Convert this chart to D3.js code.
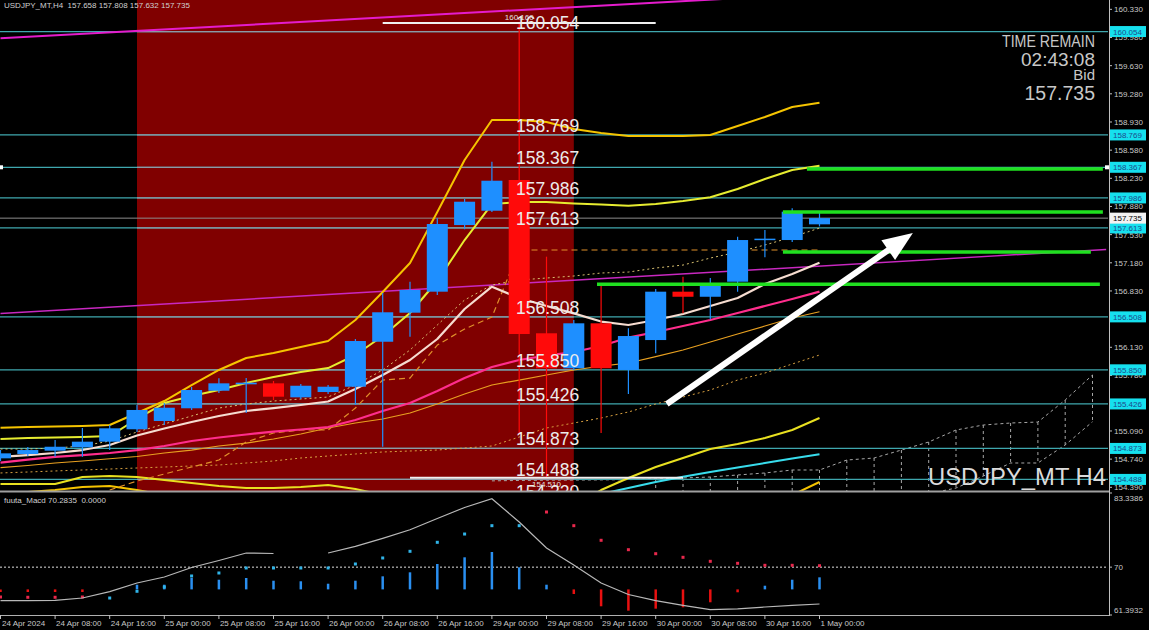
<!DOCTYPE html>
<html><head><meta charset="utf-8">
<script src="https://cdn.jsdelivr.net/npm/d3@7"></script>
<style>html,body{margin:0;padding:0;background:#000;overflow:hidden}</style>
</head><body>
<svg id="c" width="1149" height="630"></svg>
<script>
// ---------- DATA ----------
const timeLabels = ["24 Apr 2024","24 Apr 08:00","24 Apr 16:00","25 Apr 00:00","25 Apr 08:00","25 Apr 16:00","26 Apr 00:00","26 Apr 08:00","26 Apr 16:00","29 Apr 00:00","29 Apr 08:00","29 Apr 16:00","30 Apr 00:00","30 Apr 08:00","30 Apr 16:00","1 May 00:00"];
const opens  = [154.750,154.804,154.845,154.887,154.957,155.111,155.214,155.372,155.590,155.670,155.682,155.508,155.574,155.640,156.199,156.560,156.821,157.649,157.827,158.209,156.304,155.869,156.428,155.848,156.220,156.821,156.758,156.945,157.470,157.463,157.658];
const highs  = [154.853,154.891,154.978,155.127,155.164,155.413,155.438,155.636,155.744,155.748,155.711,155.674,155.661,156.233,156.804,156.945,157.733,157.973,158.436,160.160,157.256,156.469,156.904,156.366,156.854,157.007,156.991,157.504,157.587,157.857,157.808];
const lows   = [154.717,154.779,154.770,154.770,154.853,155.077,155.164,155.351,155.562,155.313,155.475,155.487,155.549,155.413,154.894,156.261,156.780,157.596,157.811,155.050,154.510,155.848,155.065,155.549,156.055,156.552,156.478,156.821,157.248,157.438,157.632];
const closes = [154.812,154.853,154.894,154.957,155.123,155.351,155.379,155.599,155.682,155.690,155.516,155.652,155.640,156.208,156.565,156.842,157.662,157.939,158.200,156.295,155.869,156.428,155.869,156.270,156.821,156.758,156.904,157.463,157.480,157.815,157.735];

const bandUpperOuter = [155.131,155.139,155.146,155.152,155.164,155.313,155.462,155.661,155.848,155.997,156.059,156.133,156.208,156.469,156.817,157.177,157.811,158.457,158.954,158.954,158.930,158.842,158.793,158.756,158.756,158.756,158.768,158.880,158.992,159.116,159.169];
const bandUpperInner = [154.990,155.003,155.009,155.015,155.027,155.239,155.437,155.524,155.599,155.686,155.761,155.823,155.872,156.034,156.270,156.556,156.954,157.463,157.910,157.935,157.935,157.917,157.904,157.889,157.911,157.948,157.994,158.097,158.221,158.333,158.386];
const midLine = [154.767,154.791,154.816,154.853,154.916,155.034,155.121,155.201,155.276,155.338,155.375,155.413,155.456,155.612,155.786,155.972,156.233,156.606,156.883,156.742,156.643,156.552,156.450,156.407,156.469,156.544,156.643,156.742,156.916,157.041,157.181];
const pinkMA = [154.696,154.735,154.767,154.791,154.816,154.853,154.903,154.965,155.009,155.046,155.083,155.108,155.139,155.226,155.338,155.437,155.587,155.748,155.885,155.972,156.028,156.071,156.146,156.251,156.320,156.394,156.469,156.556,156.643,156.730,156.821];
const orangeMA = [154.634,154.661,154.692,154.717,154.745,154.773,154.816,154.853,154.903,154.940,154.990,155.052,155.127,155.189,155.239,155.313,155.425,155.549,155.661,155.723,155.786,155.848,155.897,155.935,156.013,156.096,156.196,156.295,156.394,156.494,156.572];
const dashedLine = [null,null,null,null,154.356,154.468,154.555,154.642,154.729,154.953,155.065,155.102,155.102,155.375,155.723,155.748,156.158,156.357,156.506,157.339,157.339,157.339,157.339,157.339,157.339,157.339,157.339,157.339,157.339,157.339,157.339];
const dottedUpper = [154.866,154.866,154.878,154.903,154.965,155.077,155.177,155.276,155.375,155.425,155.462,155.487,155.512,155.661,155.848,156.096,156.407,156.718,156.904,156.966,156.991,157.016,157.053,157.065,157.115,157.152,157.239,157.314,157.401,157.500,157.612];
const dottedLower = [154.568,154.580,154.593,154.605,154.617,154.630,154.642,154.655,154.667,154.692,154.717,154.754,154.779,154.804,154.829,154.841,154.853,154.878,154.903,155.015,155.127,155.189,155.251,155.326,155.425,155.512,155.599,155.723,155.810,155.922,156.034];
const bandLowerInner = [154.431,154.431,154.431,154.518,154.530,154.518,154.481,154.443,154.406,154.381,154.381,154.394,154.419,154.369,154.294,154.22,154.10,153.95,153.85,153.90,154.00,154.15,154.356,154.506,154.642,154.754,154.866,154.928,155.003,155.102,155.251];
const bandLowerOuter = [154.319,154.332,154.356,154.394,154.406,154.356,154.294,154.20,154.10,154.00,153.95,153.90,153.85,153.80,153.70,153.55,153.40,153.20,153.00,153.00,153.05,153.15,153.30,153.50,153.70,153.85,154.00,154.10,154.20,154.294,154.456];
const cyanLine = [null,null,null,null,null,null,null,null,null,null,null,null,null,null,null,null,null,null,null,null,null,154.20,154.307,154.381,154.456,154.522,154.580,154.636,154.692,154.748,154.800];

const cloudStart = 18;
const cloudA = [154.470,154.475,154.478,154.480,154.482,154.485,154.493,154.506,154.518,154.543,154.568,154.605,154.605,154.729,154.754,154.853,154.953,155.102,155.164,155.189,155.201,155.475,155.786];
const cloudB = [null,null,null,null,null,null,154.20,154.20,154.21,154.21,154.22,154.25,154.25,154.26,154.30,154.30,154.31,154.381,154.530,154.692,154.692,154.916,155.205];

const levelPrices = [160.054,158.769,158.367,157.986,157.613,156.508,155.850,155.426,154.873,154.488];
const levelTexts  = ["160.054","158.769","158.367","157.986","157.613","156.508","155.850","155.426","154.873","154.488"];
const extraLevelPrices = [154.220];
const extraLevelTexts  = ["154.220"];
const bidPrice = 157.735;
const axisTicks = [160.330,159.980,159.630,159.280,158.930,158.580,158.230,157.880,157.530,157.180,156.830,156.480,156.130,155.780,155.435,155.090,154.740,154.390];

const greenPrices = [158.345,157.811,157.314,156.913];
const greenFrom   = [29.54,28.66,28.66,21.85];
const greenTo     = [40.38,40.38,39.94,40.27];

const magentaUpper = [[0,159.970],[30,160.524]];
const magentaLower = [[0,156.551],[40.5,157.345]];
const highlightRange = [5,21];

const extremePrices = [160.160,154.510];
const extremeIdx    = [19,20];
const extremeFrom   = [14,15];
const extremeTo     = [24,25];
const extremeTexts  = ["160.160","154.510"];

const arrowFrom = [24.41,155.425];
const arrowTo   = [33.42,157.550];

const macdSignal = [63.966,63.966,64.038,64.451,65.603,67.149,68.229,69.938,71.197,72.546,72.456,null,72.546,73.751,75.190,76.737,78.752,80.731,82.313,78.122,73.445,70.388,67.149,65.081,63.966,63.138,62.347,62.508,62.832,63.138,63.372];
const macdHist   = [65.53,65.53,65.53,65.53,66.0,66.84,66.84,68.05,67.74,68.05,67.56,67.46,67.02,67.56,68.35,69.07,70.57,71.77,72.73,69.97,66.84,65.17,62.96,62.17,62.53,62.78,63.68,65.48,66.66,67.74,68.17];
const histBase = 66.0;
const macdDots   = [64.63,64.58,64.58,64.63,64.45,65.66,66.43,68.41,68.95,69.85,69.85,69.85,69.85,70.57,71.65,72.85,74.47,75.96,77.46,77.46,79.92,77.46,74.83,73.14,72.42,71.77,71.05,70.69,70.33,70.33,70.26];
const dotKinds   = ["r","r","r","r","b","b","b","b","b","b","b","b","b","b","b","b","b","b","b","b","r","r","r","r","r","r","r","r","r","r","r"];
const macdMax = 83.3386, macdMin = 61.3932, macdLevel = 70;

// ---------- CHART ----------
const svg = d3.select("#c");
const F = "'Liberation Sans', Arial, sans-serif";
svg.append("rect").attr("width",1149).attr("height",630).attr("fill","#000");

const x  = d3.scaleLinear().domain([0,40]).range([0.5,1092.5]);
const y  = d3.scaleLinear().domain([154.344,160.446]).range([491,0]);
const ym = d3.scaleLinear().domain([macdMin,macdMax]).range([615,493]);

const defs = svg.append("defs");
defs.append("clipPath").attr("id","cm").append("rect").attr("x",0).attr("y",0).attr("width",1108).attr("height",491);
defs.append("clipPath").attr("id","cd").append("rect").attr("x",0).attr("y",493).attr("width",1108).attr("height",122);

const g = svg.append("g").attr("clip-path","url(#cm)");

// highlight
g.append("rect").attr("x",x(highlightRange[0])).attr("y",0)
 .attr("width",x(highlightRange[1])-x(highlightRange[0])).attr("height",491).attr("fill","#800000");

// cloud
const cloudLine = d3.line().defined(d=>d[1]!=null).x(d=>x(d[0])).y(d=>y(d[1]));
g.append("path").attr("d",cloudLine(cloudA.map((v,k)=>[cloudStart+k,v])))
 .attr("fill","none").attr("stroke","#a8a8a8").attr("stroke-width",1).attr("stroke-dasharray","3,3");
g.append("path").attr("d",cloudLine(cloudB.map((v,k)=>[cloudStart+k,v])))
 .attr("fill","none").attr("stroke","#a8a8a8").attr("stroke-width",1).attr("stroke-dasharray","3,3");
cloudB.forEach((b,k)=>{ if(b==null) return;
  g.append("line").attr("x1",x(cloudStart+k)).attr("x2",x(cloudStart+k))
   .attr("y1",y(cloudA[k])).attr("y2",y(b)).attr("stroke","#a8a8a8").attr("stroke-dasharray","3,3");
});

// horizontal levels
levelPrices.concat(extraLevelPrices).forEach(p=>{
  g.append("line").attr("x1",0).attr("x2",1108).attr("y1",y(p)).attr("y2",y(p)).attr("stroke","#3fa7ae").attr("stroke-width",1.2);
  g.append("line").attr("x1",x(highlightRange[0])).attr("x2",x(highlightRange[1])).attr("y1",y(p)).attr("y2",y(p)).attr("stroke","#8d9aa6").attr("stroke-width",1.2);
});
g.append("line").attr("x1",0).attr("x2",1108).attr("y1",y(bidPrice)).attr("y2",y(bidPrice)).attr("stroke","#8c8c8c").attr("stroke-width",1);

// trend lines
[[magentaUpper,"#e41ccc",2],[magentaLower,"#c828c0",1.5]].forEach(([pts,c,w])=>{
  g.append("line").attr("x1",x(pts[0][0])).attr("y1",y(pts[0][1])).attr("x2",x(pts[1][0])).attr("y2",y(pts[1][1]))
   .attr("stroke",c).attr("stroke-width",w);
});

// indicator lines
const line = d3.line().defined(d=>d!=null).x((d,i)=>x(i)).y(d=>y(d));
function drawSeries(arr,color,w,dash){
  const p = g.append("path").attr("d",line(arr)).attr("fill","none").attr("stroke",color).attr("stroke-width",w).attr("stroke-linejoin","round");
  if(dash) p.attr("stroke-dasharray",dash);
}
drawSeries(dottedLower,"#d8a040",1,"2,3");
drawSeries(dottedUpper,"#d8c070",1,"2,3");
drawSeries(bandLowerOuter,"#f5c400",2);
drawSeries(bandLowerInner,"#e8e020",2);
drawSeries(cyanLine,"#38dcec",2);
drawSeries(orangeMA,"#e8a020",1.2);
drawSeries(dashedLine,"#e0902a",1.2,"6,4");
drawSeries(pinkMA,"#ff2d8c",2.2);
drawSeries(bandUpperOuter,"#f5c400",2);
drawSeries(bandUpperInner,"#e6ec30",2);
drawSeries(midLine,"#f6dcd0",2.2);

// candles
const blue="#1e8fff", red="#ff0a0a";
opens.forEach((o,i)=>{
  const c = closes[i], col = c>=o?blue:red;
  g.append("line").attr("x1",x(i)).attr("x2",x(i)).attr("y1",y(highs[i])).attr("y2",y(lows[i])).attr("stroke",col).attr("stroke-width",1.2);
  const top=y(Math.max(o,c)), bot=y(Math.min(o,c));
  g.append("rect").attr("x",x(i)-10.5).attr("width",21).attr("y",top).attr("height",Math.max(1.5,bot-top)).attr("fill",col);
});

// green levels
greenPrices.forEach((p,k)=>{
  g.append("line").attr("x1",x(greenFrom[k])).attr("x2",x(greenTo[k])).attr("y1",y(p)).attr("y2",y(p))
   .attr("stroke","#20e020").attr("stroke-width",3.5);
});

// extremes
extremePrices.forEach((p,k)=>{
  g.append("line").attr("x1",x(extremeFrom[k])).attr("x2",x(extremeTo[k])).attr("y1",y(p)).attr("y2",y(p)).attr("stroke","#f0f0f0").attr("stroke-width",2);
  g.append("text").attr("x",x(extremeIdx[k])).attr("y",k===0?y(p)-3:y(p)+9).attr("text-anchor","middle")
   .attr("font-family",F).attr("font-size",8).attr("fill","#e0e0e0").text(extremeTexts[k]);
});

// level labels on chart
levelPrices.concat(extraLevelPrices).forEach((p,k)=>{
  g.append("text").attr("x",516).attr("y",y(p)-3).attr("font-family",F).attr("font-size",17.5)
   .attr("fill","#ececec").text(levelTexts.concat(extraLevelTexts)[k]);
});

// arrow
(function(){
  const x1=x(arrowFrom[0]), y1=y(arrowFrom[1]), x2=x(arrowTo[0]), y2=y(arrowTo[1]);
  const dx=x2-x1, dy=y2-y1, L=Math.hypot(dx,dy), ux=dx/L, uy=dy/L, nx=-uy, ny=ux;
  const bx=x2-ux*30, by=y2-uy*30;
  g.append("line").attr("x1",x1).attr("y1",y1).attr("x2",bx+ux*2).attr("y2",by+uy*2).attr("stroke","#fff").attr("stroke-width",6);
  g.append("polygon").attr("points",[[x2,y2],[bx+nx*12,by+ny*12],[bx-nx*12,by-ny*12]].map(p=>p.join(",")).join(" ")).attr("fill","#fff");
})();

// watermark & info
g.append("text").attr("x",928).attr("y",485).attr("font-family",F).attr("font-size",23).attr("fill","#dcdcdc")
 .attr("textLength",178).attr("lengthAdjust","spacingAndGlyphs").text("USDJPY_MT H4");
const info = svg.append("g").attr("font-family",F).attr("fill","#c8c8c8").attr("text-anchor","end");
info.append("text").attr("x",1095).attr("y",47).attr("font-size",17).attr("textLength",93).attr("lengthAdjust","spacingAndGlyphs").text("TIME REMAIN");
info.append("text").attr("x",1095).attr("y",66).attr("font-size",19).text("02:43:08");
info.append("text").attr("x",1095).attr("y",80).attr("font-size",15).text("Bid");
info.append("text").attr("x",1095).attr("y",100).attr("font-size",19.5).text("157.735");

// header
svg.append("text").attr("x",4).attr("y",8).attr("font-family",F).attr("font-size",8).attr("fill","#d0d0d0")
  .attr("xml:space","preserve").text("USDJPY_MT,H4  157.658 157.808 157.632 157.735");

// markers on 158.367
svg.append("rect").attr("x",0).attr("y",y(158.367)-2).attr("width",3).attr("height",4).attr("fill","#fff");
svg.append("rect").attr("x",1105).attr("y",y(158.367)-2).attr("width",4).attr("height",4).attr("fill","#fff");

// ---------- MACD ----------
const gm = svg.append("g").attr("clip-path","url(#cd)");
gm.append("line").attr("x1",0).attr("x2",1108).attr("y1",ym(macdLevel)).attr("y2",ym(macdLevel)).attr("stroke","#e0e0e0").attr("stroke-dasharray","2,2");
macdHist.forEach((v,i)=>{
  if(Math.abs(v-histBase)<0.01) return;
  gm.append("line").attr("x1",x(i)).attr("x2",x(i)).attr("y1",ym(histBase)).attr("y2",ym(v))
    .attr("stroke",v>histBase?"#2a8ff0":"#e81010").attr("stroke-width",2.5);
});
macdDots.forEach((v,i)=>{
  gm.append("rect").attr("x",x(i)-1.5).attr("y",ym(v)-1.5).attr("width",3).attr("height",3)
    .attr("fill",dotKinds[i]==="b"?"#30b4e8":"#e8284c");
});
gm.append("path").attr("d",d3.line().defined(d=>d!=null).x((d,i)=>x(i)).y(d=>ym(d))(macdSignal))
  .attr("fill","none").attr("stroke","#b8b8b8").attr("stroke-width",1.2);
svg.append("text").attr("x",4).attr("y",503).attr("font-family",F).attr("font-size",8).attr("fill","#d0d0d0")
  .attr("xml:space","preserve").text("fuuta_Macd 70.2835  0.0000");

// ---------- FRAMES & AXES ----------
svg.append("line").attr("x1",0).attr("x2",1109).attr("y1",491.5).attr("y2",491.5).attr("stroke","#a0a0a0").attr("stroke-width",2);
svg.append("line").attr("x1",0).attr("x2",1109).attr("y1",615.5).attr("y2",615.5).attr("stroke","#b0b0b0").attr("stroke-width",1);
svg.append("line").attr("x1",1109.5).attr("x2",1109.5).attr("y1",0).attr("y2",616).attr("stroke","#c0c0c0").attr("stroke-width",1);

const ax = svg.append("g").attr("font-family",F).attr("font-size",8).attr("fill","#c8c8c8");
axisTicks.forEach(p=>{
  ax.append("line").attr("x1",1109).attr("x2",1112).attr("y1",y(p)).attr("y2",y(p)).attr("stroke","#c0c0c0");
  ax.append("text").attr("x",1114).attr("y",y(p)+3).text(p.toFixed(3));
});
levelPrices.forEach((p,k)=>{
  ax.append("rect").attr("x",1110).attr("y",y(p)-5.5).attr("width",36).attr("height",11).attr("fill","#16e0ee");
  ax.append("text").attr("x",1113).attr("y",y(p)+3).attr("fill","#1d4a8c").text(levelTexts[k]);
});
ax.append("rect").attr("x",1110).attr("y",y(bidPrice)-5.5).attr("width",36).attr("height",11).attr("fill","#f2f2f2");
ax.append("text").attr("x",1113).attr("y",y(bidPrice)+3).attr("fill","#000").text(bidPrice.toFixed(3));

[[macdMax,ym(macdMax)+8,"83.3386"],[macdLevel,ym(macdLevel)+3,"70"],[macdMin,ym(macdMin)-2,"61.3932"]].forEach(([v,ty,t])=>{
  ax.append("line").attr("x1",1109).attr("x2",1112).attr("y1",ym(v)).attr("y2",ym(v)).attr("stroke","#c0c0c0");
  ax.append("text").attr("x",1114).attr("y",ty).text(t);
});

timeLabels.forEach((t,k)=>{
  const xi = x(k*2);
  ax.append("line").attr("x1",xi).attr("x2",xi).attr("y1",615).attr("y2",619).attr("stroke","#c0c0c0");
  ax.append("text").attr("x",k===0?2:xi+1).attr("y",626).text(t);
});
</script>
</body></html>
